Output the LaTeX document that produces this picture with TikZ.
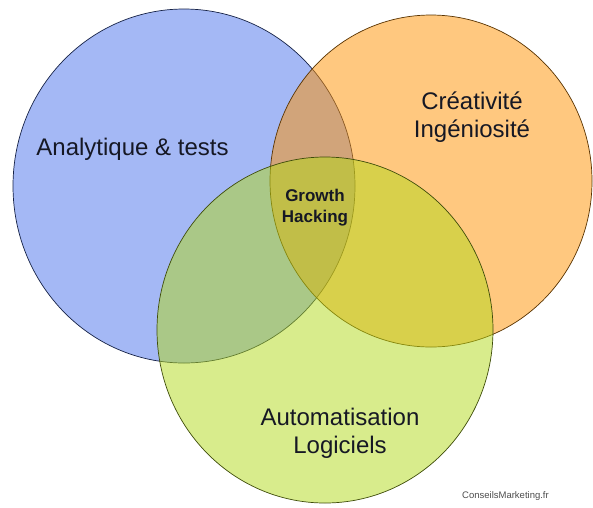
\documentclass[tikz,border=0pt]{standalone}
\usepackage{fontspec}
\setmainfont{Liberation Sans}
\usepackage{tikz}
\usetikzlibrary{shapes.geometric}
\definecolor{bleu}{RGB}{73,113,235}
\definecolor{orange}{RGB}{255,145,0}
\definecolor{vert}{RGB}{177,217,25}
\definecolor{texte}{RGB}{22,24,36}

\begin{document}
\begin{tikzpicture}[x=1pt,y=-1pt,
  cercle/.style={ellipse,inner sep=0pt,fill opacity=0.5,draw opacity=1,line width=0.7pt},
  etiquette/.style={text=texte,font=\fontsize{24}{28}\selectfont,align=center}]
\useasboundingbox (0,0) rectangle (593,507);

\node[cercle,fill=bleu,draw=bleu!30!black,minimum width=342pt,minimum height=354pt] (analytique) at (184,186) {};
\node[cercle,fill=orange,draw=orange!35!black,minimum width=322pt,minimum height=332pt] (creativite) at (431,181) {};
\node[cercle,fill=vert,draw=vert!35!black,minimum width=336pt,minimum height=346pt] (automatisation) at (325,330) {};

\node[etiquette,anchor=base] (t1) at (132.5,155) {Analytique \& tests};
\node[etiquette] (t2) at (472,117.5) {Créativité\\Ingéniosité};
\node[etiquette] (t3) at (340,433) {Automatisation\\Logiciels};
\node[text=texte,font=\fontsize{17}{21}\selectfont\bfseries,align=center] (gh) at (315,208) {Growth\\Hacking};

\node[text=black!70,font=\fontsize{9.5}{11}\selectfont,anchor=base] (src) at (505.5,498) {ConseilsMarketing.fr};
\end{tikzpicture}
\end{document}
